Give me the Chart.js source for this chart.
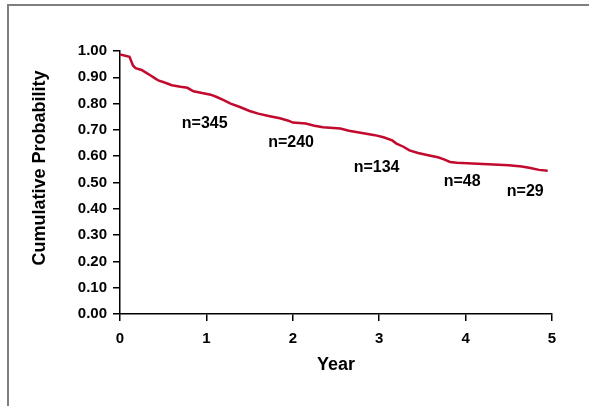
<!DOCTYPE html>
<html>
<head>
<meta charset="utf-8">
<title>Cumulative Probability</title>
<script src="https://cdn.jsdelivr.net/npm/chart.js@4.4.1/dist/chart.umd.min.js"></script>
<style>
  html, body { margin: 0; padding: 0; background: #fff; }
  #wrap { position: relative; width: 589px; height: 406px; }
</style>
</head>
<body>
<div id="wrap"><canvas id="kmChart"></canvas></div>
<script>
// survival curve (year, probability)
const years = [0, 0.11, 0.15, 0.18, 0.25, 0.30, 0.35, 0.41, 0.45, 0.50, 0.60, 0.70, 0.78, 0.85, 0.95,
  1.05, 1.12, 1.20, 1.28, 1.38, 1.50, 1.60, 1.72, 1.85, 1.95, 2.00, 2.15, 2.25, 2.35, 2.55, 2.65,
  2.80, 2.95, 3.05, 3.15, 3.20, 3.28, 3.35, 3.45, 3.58, 3.68, 3.75, 3.82, 3.90, 4.20, 4.50, 4.65,
  4.75, 4.85, 4.95];
const survival = [0.987, 0.978, 0.945, 0.935, 0.928, 0.918, 0.908, 0.895, 0.887, 0.882, 0.870, 0.864,
  0.860, 0.847, 0.840, 0.834, 0.825, 0.813, 0.800, 0.788, 0.772, 0.762, 0.753, 0.744, 0.735, 0.728,
  0.724, 0.716, 0.710, 0.705, 0.697, 0.688, 0.680, 0.672, 0.660, 0.648, 0.636, 0.622, 0.612, 0.603,
  0.596, 0.588, 0.578, 0.575, 0.570, 0.566, 0.561, 0.555, 0.548, 0.545];

// numbers at risk and where they sit (data units)
const atRisk = ["n=345", "n=240", "n=134", "n=48", "n=29"];
const atRiskYear = [0.98, 1.98, 2.97, 3.96, 4.69];
const atRiskProb = [0.725, 0.653, 0.557, 0.503, 0.467];

const xTicks = [0, 1, 2, 3, 4, 5];
const yTicks = [0, 0.1, 0.2, 0.3, 0.4, 0.5, 0.6, 0.7, 0.8, 0.9, 1.0];

const FONT = "'Liberation Sans', Arial, Helvetica, sans-serif";
Chart.defaults.font.family = FONT;
Chart.defaults.color = "#000";

// frame (top + left lines) and y title
const framePlugin = {
  id: "frame",
  beforeDraw(chart){
    const ctx = chart.ctx;
    ctx.save();
    ctx.fillStyle = "#7f7f7f";
    ctx.fillRect(7, 4, 589 - 7, 2);
    ctx.fillRect(7, 4, 2, 406 - 4);
    ctx.restore();
  },
  afterDraw(chart){
    const ctx = chart.ctx;
    ctx.save();
    ctx.translate(40, 168);
    ctx.rotate(-Math.PI / 2);
    ctx.font = "bold 18px " + FONT;
    ctx.fillStyle = "#000";
    ctx.textAlign = "center";
    ctx.textBaseline = "middle";
    ctx.fillText("Cumulative Probability", 0, 0);
    ctx.restore();
  }
};

const notesPlugin = {
  id: "notes",
  afterDatasetsDraw(chart){
    const {ctx, scales} = chart;
    ctx.save();
    ctx.font = "bold 16px " + FONT;
    ctx.fillStyle = "#000";
    ctx.textAlign = "center";
    ctx.textBaseline = "middle";
    atRisk.forEach((t, i) => {
      ctx.fillText(t, scales.x.getPixelForValue(atRiskYear[i]), scales.y.getPixelForValue(atRiskProb[i]));
    });
    ctx.restore();
  }
};

const ctx = document.getElementById("kmChart").getContext("2d");
new Chart(ctx, {
  type: "line",
  data: {
    datasets: [{
      data: years.map((t, i) => ({x: t, y: survival[i]})),
      borderColor: "#c20a2e",
      borderWidth: 2.5,
      pointRadius: 0,
      tension: 0,
      fill: false
    }]
  },
  options: {
    responsive: true,
    maintainAspectRatio: false,
    animation: false,
    layout: { padding: { left: 0, top: 51, right: 37, bottom: 0 } },
    plugins: { legend: { display: false }, tooltip: { enabled: false } },
    scales: {
      x: {
        type: "linear",
        min: 0, max: 5,
        afterFit(s){ s.height = 92; },
        afterBuildTicks(s){ s.ticks = xTicks.map(v => ({value: v})); },
        ticks: { font: { size: 15, weight: "bold" }, padding: 9, color: "#000" },
        grid: { drawOnChartArea: false, drawTicks: true, tickLength: 7, color: "#000", lineWidth: 1.5 },
        border: { display: true, color: "#000", width: 1.5 },
        title: { display: true, text: "Year", font: { size: 18, weight: "bold" }, color: "#000", padding: { top: 0, bottom: 30 } }
      },
      y: {
        type: "linear",
        min: 0, max: 1,
        afterFit(s){ s.width = 120; },
        afterBuildTicks(s){ s.ticks = yTicks.map(v => ({value: v})); },
        ticks: { font: { size: 15, weight: "bold" }, padding: 6, color: "#000", callback: v => v.toFixed(2) },
        grid: { drawOnChartArea: false, drawTicks: true, tickLength: 7, color: "#000", lineWidth: 1.5 },
        border: { display: true, color: "#000", width: 1.5 }
      }
    }
  },
  plugins: [framePlugin, notesPlugin]
});
</script>
</body>
</html>
